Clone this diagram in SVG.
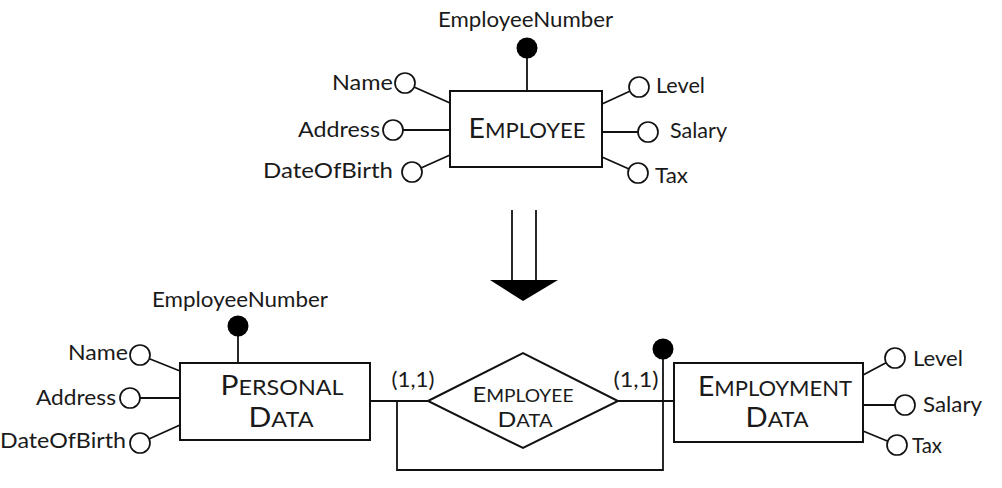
<svg xmlns="http://www.w3.org/2000/svg" width="1002" height="488" viewBox="0 0 1002 488">
<style>
.ln{stroke:#111;stroke-width:1.8;fill:none}
.box{stroke:#111;stroke-width:2;fill:#fff}
.att{stroke:#111;stroke-width:1.7;fill:#fff}
.key{fill:#000;stroke:none}
text{font-family:Lato,"Liberation Sans",sans-serif;fill:#1a1a1a;font-size:21px}
.ent{font-size:21px}
.big{font-size:27px}
.mid{font-size:17px}
.midbig{font-size:21px}
</style>
<rect width="1002" height="488" fill="#fff"/>
<g id="connectors">
  <line class="ln" x1="527" y1="48" x2="527" y2="91"/>
  <line class="ln" x1="405" y1="83" x2="450" y2="103"/>
  <line class="ln" x1="393" y1="130" x2="450" y2="130"/>
  <line class="ln" x1="412" y1="172" x2="450" y2="155"/>
  <line class="ln" x1="639" y1="87" x2="602" y2="104"/>
  <line class="ln" x1="648" y1="132" x2="602" y2="132"/>
  <line class="ln" x1="638" y1="173" x2="602" y2="157"/>
  <line class="ln" x1="512" y1="210" x2="512" y2="282"/>
  <line class="ln" x1="536" y1="210" x2="536" y2="282"/>
  <polygon points="490,280 558,280 523,301" fill="#000"/>
  <line class="ln" x1="238" y1="327" x2="238" y2="363"/>
  <line class="ln" x1="140" y1="355" x2="180" y2="371"/>
  <line class="ln" x1="130" y1="398" x2="180" y2="398"/>
  <line class="ln" x1="140" y1="443" x2="180" y2="425"/>
  <line class="ln" x1="370" y1="401" x2="428" y2="401"/>
  <line class="ln" x1="618" y1="401" x2="674" y2="401"/>
  <polyline class="ln" points="397,401 397,470 663,470 663,350"/>
  <line class="ln" x1="895" y1="358" x2="863" y2="375"/>
  <line class="ln" x1="905" y1="405" x2="863" y2="405"/>
  <line class="ln" x1="897" y1="445" x2="863" y2="431"/>
</g>
<g id="employee">
  <rect class="box" x="450" y="91" width="152" height="76"/>
  <text x="527" y="138" text-anchor="middle" textLength="117" lengthAdjust="spacingAndGlyphs"><tspan class="big">E</tspan><tspan class="ent">MPLOYEE</tspan></text>
</g>
<g id="employee-number-top">
  <circle class="key" cx="527" cy="48" r="10.5"/>
  <text x="438" y="27" textLength="175" lengthAdjust="spacingAndGlyphs">EmployeeNumber</text>
</g>
<g id="name-top"><circle class="att" cx="405" cy="83" r="10"/><text x="393" y="90" text-anchor="end" textLength="61" lengthAdjust="spacingAndGlyphs">Name</text></g>
<g id="address-top"><circle class="att" cx="393" cy="130" r="10"/><text x="380" y="137" text-anchor="end" textLength="82" lengthAdjust="spacingAndGlyphs">Address</text></g>
<g id="dob-top"><circle class="att" cx="412" cy="172" r="10"/><text x="393" y="178" text-anchor="end" textLength="130" lengthAdjust="spacingAndGlyphs">DateOfBirth</text></g>
<g id="level-top"><circle class="att" cx="639" cy="87" r="10"/><text x="656" y="93" textLength="49" lengthAdjust="spacingAndGlyphs">Level</text></g>
<g id="salary-top"><circle class="att" cx="648" cy="132" r="10"/><text x="670" y="138" textLength="57" lengthAdjust="spacingAndGlyphs">Salary</text></g>
<g id="tax-top"><circle class="att" cx="638" cy="173" r="10"/><text x="655" y="183" textLength="33" lengthAdjust="spacingAndGlyphs">Tax</text></g>

<g id="personal-data">
  <rect class="box" x="180" y="363" width="190" height="77"/>
  <text x="282" y="395" text-anchor="middle" textLength="123" lengthAdjust="spacingAndGlyphs"><tspan class="big">P</tspan><tspan class="ent">ERSONAL</tspan></text>
  <text x="281" y="427" text-anchor="middle" textLength="65" lengthAdjust="spacingAndGlyphs"><tspan class="big">D</tspan><tspan class="ent">ATA</tspan></text>
</g>
<g id="employee-number-bottom">
  <circle class="key" cx="238" cy="326" r="10.5"/>
  <text x="152" y="307" textLength="176" lengthAdjust="spacingAndGlyphs">EmployeeNumber</text>
</g>
<g id="name-bottom"><circle class="att" cx="140" cy="355" r="10"/><text x="128" y="360" text-anchor="end" textLength="60" lengthAdjust="spacingAndGlyphs">Name</text></g>
<g id="address-bottom"><circle class="att" cx="130" cy="398" r="10"/><text x="116" y="405" text-anchor="end" textLength="80" lengthAdjust="spacingAndGlyphs">Address</text></g>
<g id="dob-bottom"><circle class="att" cx="140" cy="443" r="10"/><text x="126" y="448" text-anchor="end" textLength="126" lengthAdjust="spacingAndGlyphs">DateOfBirth</text></g>

<g id="employee-data">
  <polygon class="box" points="428,401 523,353 618,401 523,448"/>
  <text x="523" y="402" text-anchor="middle" textLength="101" lengthAdjust="spacingAndGlyphs"><tspan class="midbig">E</tspan><tspan class="mid">MPLOYEE</tspan></text>
  <text x="525" y="427" text-anchor="middle" textLength="55" lengthAdjust="spacingAndGlyphs"><tspan class="midbig">D</tspan><tspan class="mid">ATA</tspan></text>
</g>
<g id="card-left"><text x="413" y="387" text-anchor="middle" textLength="43" lengthAdjust="spacingAndGlyphs">(1,1)</text></g>
<g id="card-right"><text x="636" y="387" text-anchor="middle" textLength="45" lengthAdjust="spacingAndGlyphs">(1,1)</text></g>
<g id="identifier-key"><circle class="key" cx="663" cy="349" r="10.5"/></g>

<g id="employment-data">
  <rect class="box" x="674" y="363" width="189" height="79"/>
  <text x="775" y="396" text-anchor="middle" textLength="154" lengthAdjust="spacingAndGlyphs"><tspan class="big">E</tspan><tspan class="ent">MPLOYMENT</tspan></text>
  <text x="777" y="427" text-anchor="middle" textLength="63" lengthAdjust="spacingAndGlyphs"><tspan class="big">D</tspan><tspan class="ent">ATA</tspan></text>
</g>
<g id="level-bottom"><circle class="att" cx="895" cy="358" r="10"/><text x="913" y="366" textLength="50" lengthAdjust="spacingAndGlyphs">Level</text></g>
<g id="salary-bottom"><circle class="att" cx="905" cy="405" r="10"/><text x="923" y="412" textLength="59" lengthAdjust="spacingAndGlyphs">Salary</text></g>
<g id="tax-bottom"><circle class="att" cx="897" cy="445" r="10"/><text x="912" y="453" textLength="30" lengthAdjust="spacingAndGlyphs">Tax</text></g>
</svg>
